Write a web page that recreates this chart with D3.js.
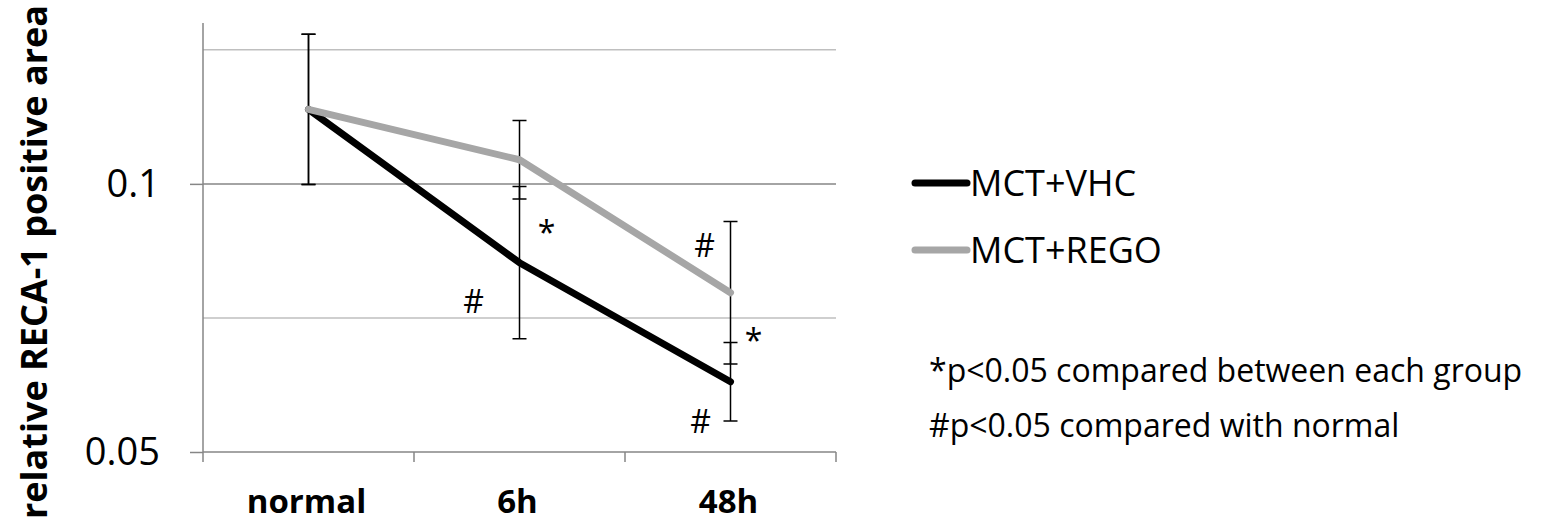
<!DOCTYPE html>
<html>
<head>
<meta charset="utf-8">
<script src="https://cdn.jsdelivr.net/npm/d3@7"></script>
<style>
    body { margin: 0; background: #fff; }
    svg text { font-family: "Open Sans", sans-serif; fill: #000; }
    .axis path, .axis line { stroke: #868686; stroke-width: 1.5; }
    .grid-major { stroke: #868686; stroke-width: 1.5; }
    .grid-minor { stroke: #bfbfbf; stroke-width: 1.5; }
    .err { stroke: #000; stroke-width: 1.5; fill: none; }
</style>
</head>
<body>
<div class="chart"></div>
<script>

    // values
    const categories = ["normal", "6h", "48h"];
    const vhcMean = [0.1139, 0.0853, 0.0631];
    const vhcErr = [0.0140, 0.0142, 0.0073];
    const regoMean = [0.1139, 0.1045, 0.0797];
    const regoErr = [0.0140, 0.0073, 0.0133];
    const yTicks = [0.05, 0.1];
    const yMinor = [0.075, 0.125];
    const seriesNames = ["MCT+VHC", "MCT+REGO"];
    const notes = ["*p<0.05 compared between each group", "#p<0.05 compared with normal"];
    // significance marks: category, approx value at text baseline, symbol
    const markCats = ["6h", "6h", "48h", "48h", "48h"];
    const markVals = [0.0888, 0.0759, 0.0864, 0.0687, 0.0535];
    const markText = ["*", "#", "#", "*", "#"];

    (function () {
        const width = 1548, height = 521;
        const left = 203, right = 836, top = 23, bottom = 452;

        const svg = d3.select(".chart").append("svg")
            .attr("width", width)
            .attr("height", height);

        const x = d3.scaleBand().domain(categories).range([left, right]);
        const y = d3.scaleLinear().domain([0.05, 0.13]).range([bottom, top]);
        const cx = function (c) { return x(c) + x.bandwidth() / 2; };

        // minor gridlines
        svg.append("g").selectAll("line")
            .data(yMinor).enter().append("line")
            .attr("class", "grid-minor")
            .attr("x1", left).attr("x2", right)
            .attr("y1", d => y(d)).attr("y2", d => y(d));

        // major gridlines
        svg.append("g").selectAll("line")
            .data(yTicks.filter(d => d > 0.05)).enter().append("line")
            .attr("class", "grid-major")
            .attr("x1", left).attr("x2", right)
            .attr("y1", d => y(d)).attr("y2", d => y(d));

        // y axis
        const yAxis = svg.append("g")
            .attr("class", "axis")
            .attr("transform", "translate(" + left + ",0)")
            .call(d3.axisLeft(y).tickValues(yTicks).tickSize(13).tickPadding(30)
                .tickFormat(d => String(d)));
        yAxis.select(".domain").attr("d", "M0," + top + "V" + bottom);
        yAxis.selectAll("text").style("font-size", "38px");

        // x axis: line with ticks on category boundaries
        const xg = svg.append("g").attr("class", "axis");
        xg.append("line").attr("x1", left).attr("x2", right)
            .attr("y1", bottom).attr("y2", bottom);
        const bounds = categories.map(c => x(c)).concat([x(categories[categories.length - 1]) + x.bandwidth()]);
        xg.selectAll("line.tk").data(bounds).enter().append("line")
            .attr("class", "tk")
            .attr("x1", d => d).attr("x2", d => d)
            .attr("y1", bottom).attr("y2", bottom + 10);
        svg.append("g").selectAll("text").data(categories).enter().append("text")
            .attr("x", d => cx(d) - 2)
            .attr("y", 513)
            .attr("text-anchor", "middle")
            .style("font-size", "33px")
            .style("font-weight", "bold")
            .text(d => d);

        // y title
        svg.append("text")
            .attr("transform", "translate(47," + 262 + ") rotate(-90)")
            .attr("text-anchor", "middle")
            .style("font-size", "36px")
            .style("font-weight", "bold")
            .text("relative RECA-1 positive area");

        const series = [
            {name: seriesNames[0], mean: vhcMean, err: vhcErr, color: "#000000"},
            {name: seriesNames[1], mean: regoMean, err: regoErr, color: "#a6a6a6"}
        ];

        // error bars
        series.forEach(function (s) {
            const g = svg.append("g");
            categories.forEach(function (c, i) {
                const hi = y(s.mean[i] + s.err[i]);
                const lo = y(s.mean[i] - s.err[i]);
                const xc = cx(c);
                g.append("path").attr("class", "err")
                    .attr("d", "M" + xc + "," + hi + "V" + lo +
                        "M" + (xc - 7) + "," + hi + "H" + (xc + 7) +
                        "M" + (xc - 7) + "," + lo + "H" + (xc + 7));
            });
        });

        // lines
        const line = d3.line()
            .x((d, i) => cx(categories[i]))
            .y(d => y(d));
        series.forEach(function (s) {
            svg.append("path")
                .datum(s.mean)
                .attr("d", line)
                .attr("fill", "none")
                .attr("stroke", s.color)
                .attr("stroke-width", 7)
                .attr("stroke-linecap", "round")
                .attr("stroke-linejoin", "round");
        });

        // significance marks
        svg.append("g").selectAll("text").data(markText).enter().append("text")
            .attr("x", (d, i) => cx(markCats[i]) + [27, -46, -26, 23, -30][i])
            .attr("y", (d, i) => y(markVals[i]))
            .attr("text-anchor", "middle")
            .style("font-size", "32px")
            .text(d => d);

        // legend
        const lg = svg.append("g");
        series.forEach(function (s, i) {
            const ly = 183 + i * 67;
            lg.append("line")
                .attr("x1", 915).attr("x2", 967)
                .attr("y1", ly).attr("y2", ly)
                .attr("stroke", s.color)
                .attr("stroke-width", 7)
                .attr("stroke-linecap", "round");
            lg.append("text")
                .attr("x", 970).attr("y", ly + 13)
                .style("font-size", "36px")
                .text(s.name);
        });

        // footnotes
        svg.append("g").selectAll("text").data(notes).enter().append("text")
            .attr("x", 929)
            .attr("y", (d, i) => 382 + i * 55)
            .style("font-size", "32px")
            .text(d => d);
    })()
</script>
</body>
</html>
